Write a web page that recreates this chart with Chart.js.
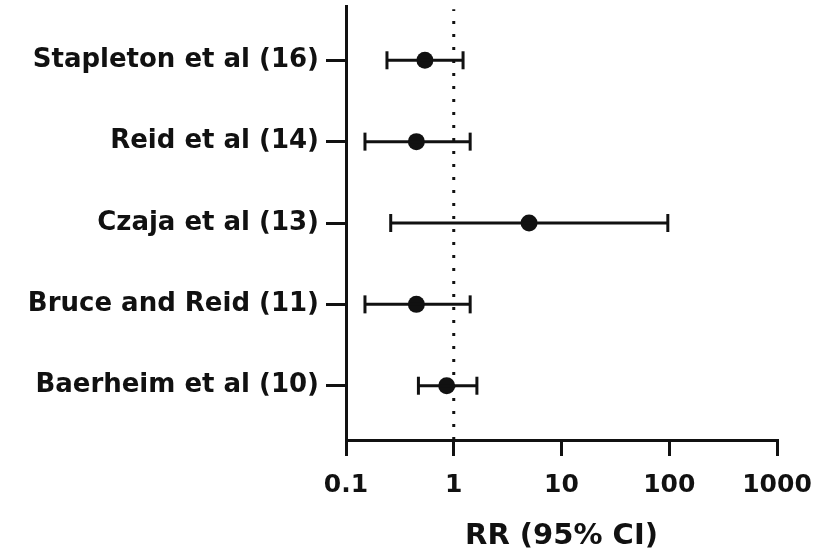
<!DOCTYPE html>
<html>
<head>
<meta charset="utf-8">
<script src="https://cdn.jsdelivr.net/npm/chart.js@4.4.1/dist/chart.umd.min.js"></script>
<style>
  html, body { margin: 0; padding: 0; background: #fff; }
  #wrap { width: 835px; height: 557px; }
</style>
</head>
<body>
<div id="wrap"><canvas id="forest" width="835" height="557"></canvas></div>
<script>
// studies listed top to bottom
var studies = ['Stapleton et al (16)', 'Reid et al (14)', 'Czaja et al (13)', 'Bruce and Reid (11)', 'Baerheim et al (10)'];
var rr = [0.54, 0.45, 5.0, 0.45, 0.86];
var ciLow = [0.24, 0.15, 0.26, 0.15, 0.47];
var ciHigh = [1.22, 1.42, 97, 1.42, 1.64];
var xTicks = [0.1, 1, 10, 100, 1000];
var refValue = 1;

var font = "'DejaVu Sans', sans-serif";
var ink = '#111';
var yMin = -0.667, yMax = studies.length - 1 + 0.667;

function rowOf(i) { return studies.length - 1 - i; }

var datasets = [];

// dotted line at RR = 1
datasets.push({
    type: 'line',
    data: [{x: refValue, y: yMin}, {x: refValue, y: yMax - 0.04}],
    borderColor: ink,
    borderWidth: 3,
    borderDash: [3, 10],
    pointRadius: 0,
    clip: false
});

// confidence interval whiskers with end caps
studies.forEach(function (s, i) {
    datasets.push({
        type: 'line',
        data: [{x: ciLow[i], y: rowOf(i)}, {x: ciHigh[i], y: rowOf(i)}],
        borderColor: ink,
        borderWidth: 3,
        pointStyle: 'line',
        rotation: 90,
        pointRadius: 9,
        pointBorderWidth: 3,
        pointBorderColor: ink
    });
});

// point estimates
datasets.push({
    type: 'scatter',
    data: studies.map(function (s, i) { return {x: rr[i], y: rowOf(i)}; }),
    backgroundColor: ink,
    borderColor: ink,
    pointRadius: 8.5,
    pointBorderWidth: 0
});

new Chart(document.getElementById('forest').getContext('2d'), {
    type: 'scatter',
    data: { datasets: datasets },
    options: {
        responsive: false,
        animation: false,
        layout: { autoPadding: false, padding: { top: 6, right: 58, left: 0, bottom: 0 } },
        plugins: { legend: { display: false }, tooltip: { enabled: false } },
        scales: {
            x: {
                type: 'logarithmic',
                min: 0.1,
                max: 1000,
                afterBuildTicks: function (scale) {
                    scale.ticks = xTicks.map(function (v) { return {value: v}; });
                },
                afterFit: function (scale) { scale.height = 117; },
                ticks: {
                    color: ink,
                    padding: 14,
                    font: { family: font, size: 25, weight: 'bold' },
                    callback: function (v) { return String(v); },
                    maxRotation: 0
                },
                grid: {
                    drawOnChartArea: false,
                    drawTicks: true,
                    tickLength: 16,
                    color: ink,
                    lineWidth: 3
                },
                border: { display: true, color: ink, width: 3 },
                title: {
                    display: true,
                    text: 'RR (95% CI)',
                    color: ink,
                    font: { family: font, size: 29, weight: 'bold' },
                    padding: { top: 10, bottom: 3 }
                }
            },
            y: {
                type: 'linear',
                min: yMin,
                max: yMax,
                afterBuildTicks: function (scale) {
                    scale.ticks = studies.map(function (s, i) { return {value: rowOf(i)}; });
                },
                afterFit: function (scale) {
                    scale.width = 346;
                    scale.paddingTop = 0;
                    scale.paddingBottom = 0;
                },
                ticks: {
                    color: ink,
                    padding: 7,
                    font: { family: font, size: 26, weight: 'bold' },
                    callback: function (v) { return studies[studies.length - 1 - v]; }
                },
                grid: {
                    drawOnChartArea: false,
                    drawTicks: true,
                    tickLength: 20,
                    color: ink,
                    lineWidth: 3
                },
                border: { display: true, color: ink, width: 3 }
            }
        }
    }
});
</script>
</body>
</html>
